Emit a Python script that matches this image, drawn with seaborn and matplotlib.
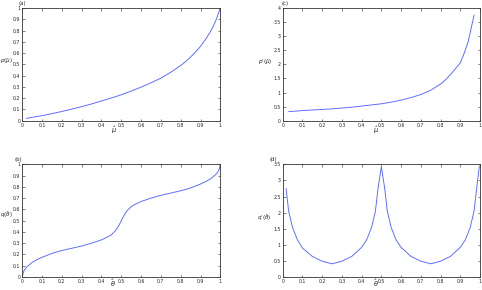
import numpy as np
import pandas as pd
import matplotlib
matplotlib.use("Agg")
import matplotlib.pyplot as plt
import seaborn as sns

sns.set_style("ticks")
plt.rcParams['font.family'] = ['DejaVu Sans']
plt.rcParams['mathtext.fontset'] = 'dejavusans'

# (a) p(mu_hat)
mu_a = [0.02, 0.05, 0.1, 0.15, 0.2, 0.25, 0.3, 0.35, 0.4, 0.45, 0.5, 0.55, 0.6,
        0.65, 0.7, 0.75, 0.8, 0.825, 0.85, 0.875, 0.9, 0.925, 0.95, 0.965, 0.98, 1.0]
p_a = [0.02, 0.03, 0.045, 0.063, 0.082, 0.103, 0.125, 0.149, 0.175, 0.202, 0.23,
       0.263, 0.298, 0.336, 0.378, 0.43, 0.49, 0.525, 0.565, 0.61, 0.66, 0.72,
       0.79, 0.84, 0.9, 1.0]

# (c) p'(mu_hat)
mu_c = [0.03, 0.05, 0.1, 0.15, 0.2, 0.25, 0.3, 0.35, 0.4, 0.45, 0.5, 0.55, 0.6,
        0.65, 0.7, 0.75, 0.8, 0.83, 0.87, 0.9, 0.92, 0.94, 0.97]
dp_c = [0.32, 0.33, 0.36, 0.38, 0.4, 0.42, 0.45, 0.48, 0.52, 0.56, 0.6, 0.66, 0.73,
        0.82, 0.93, 1.08, 1.3, 1.48, 1.8, 2.05, 2.4, 2.8, 3.75]

# (b) q(theta_hat)
th_b = [0.0, 0.005, 0.01, 0.02, 0.03, 0.05, 0.075, 0.1, 0.15, 0.2, 0.25, 0.3, 0.35,
        0.4, 0.43, 0.45, 0.47, 0.48, 0.49, 0.5, 0.51, 0.52, 0.53, 0.55, 0.57, 0.6,
        0.65, 0.7, 0.75, 0.8, 0.85, 0.9, 0.925, 0.95, 0.97, 0.98, 0.99, 0.995, 1.0]
q_b = [0.0, 0.04, 0.06, 0.085, 0.1, 0.13, 0.155, 0.175, 0.21, 0.235, 0.255, 0.275,
       0.3, 0.33, 0.355, 0.375, 0.41, 0.435, 0.465, 0.5, 0.535, 0.565, 0.59, 0.625,
       0.645, 0.67, 0.7, 0.725, 0.745, 0.765, 0.79, 0.825, 0.845, 0.87, 0.9, 0.915,
       0.94, 0.96, 1.0]

# (d) q'(theta_hat)
th_d = [0.017, 0.03, 0.05, 0.075, 0.1, 0.15, 0.2, 0.25, 0.3, 0.35, 0.4, 0.425,
        0.45, 0.47, 0.483, 0.5, 0.517, 0.53, 0.55, 0.575, 0.6, 0.65,
        0.7, 0.75, 0.8, 0.85, 0.9, 0.925, 0.95, 0.97, 0.983, 0.997]
dq_d = [2.75, 2.05, 1.53, 1.15, 0.9, 0.64, 0.49, 0.41, 0.49, 0.64, 0.92, 1.15,
        1.53, 2.05, 2.75, 3.42, 2.75, 2.05, 1.53, 1.15, 0.92, 0.64,
        0.49, 0.41, 0.49, 0.64, 0.92, 1.15, 1.53, 2.05, 2.75, 3.45]

xticks = np.round(np.arange(0, 1.01, 0.1), 1)
xticklabels = ['0', '0.1', '0.2', '0.3', '0.4', '0.5', '0.6', '0.7', '0.8', '0.9', '1']

line_color = '#5566ff'
W, H = 482, 290
fig = plt.figure(figsize=(W / 100, H / 100), dpi=100)


def make_ax(l, t, r, b):
    return fig.add_axes([l / W, 1 - b / H, (r - l) / W, (b - t) / H])


panels = [
    # box (l, t, r, b), x, y, ylim, yticks, ylabel, xlabel, tag, ylabel pos, xlabel pos, tag pos
    ((22.3, 8, 220.3, 120.7), mu_a, p_a, (0, 1), np.round(np.arange(0, 1.01, 0.1), 1),
     r'$p(\hat{\mu})$', r'$\hat{\mu}$', '(a)', (0.3, 61), (114, 130), (22, 3)),
    ((282.7, 8, 480, 120.7), mu_c, dp_c, (0, 4), np.arange(0, 4.01, 0.5),
     r"$p'(\hat{\mu})$", r'$\hat{\mu}$', '(c)', (258, 62), (376, 130), (285, 3)),
    ((22.3, 164.3, 220.3, 277), th_b, q_b, (0, 1), np.round(np.arange(0, 1.01, 0.1), 1),
     r'$q(\hat{\theta})$', r'$\hat{\theta}$', '(b)', (0.3, 215), (113, 283), (18, 159)),
    ((282.7, 164.3, 480, 277), th_d, dq_d, (0, 3.5), np.arange(0, 3.51, 0.5),
     r"$q'(\hat{\theta})$", r'$\hat{\theta}$', '(d)', (257, 218), (376, 283), (273, 159)),
]

for box, xs, ys, ylim, yticks, ylab, xlab, tag, ylpos, xlpos, tagpos in panels:
    ax = make_ax(*box)
    df = pd.DataFrame({'x': xs, 'y': ys})
    sns.lineplot(data=df, x='x', y='y', ax=ax, color=line_color, linewidth=0.65,
                 sort=False)
    ax.set_xlim(0, 1)
    ax.set_ylim(*ylim)
    ax.set_xticks(xticks)
    ax.set_xticklabels(xticklabels)
    ax.set_yticks(yticks)
    ax.set_yticklabels(['%g' % v for v in yticks])
    ax.tick_params(direction='in', length=1.8, width=0.4, labelsize=3.3, pad=1.5,
                   top=True, right=True, colors='#222222')
    ax.set_xlabel('')
    ax.set_ylabel('')
    for s in ax.spines.values():
        s.set_linewidth(0.6)
        s.set_color('#333333')
    fig.text(xlpos[0] / W, 1 - xlpos[1] / H, xlab, fontsize=4.8, ha='center', va='center')
    fig.text(ylpos[0] / W, 1 - ylpos[1] / H, ylab, fontsize=4.1, ha='left', va='center')
    fig.text(tagpos[0] / W, 1 - tagpos[1] / H, tag, fontsize=3.8, ha='center', va='center')

fig.savefig('out.png', dpi=100)
